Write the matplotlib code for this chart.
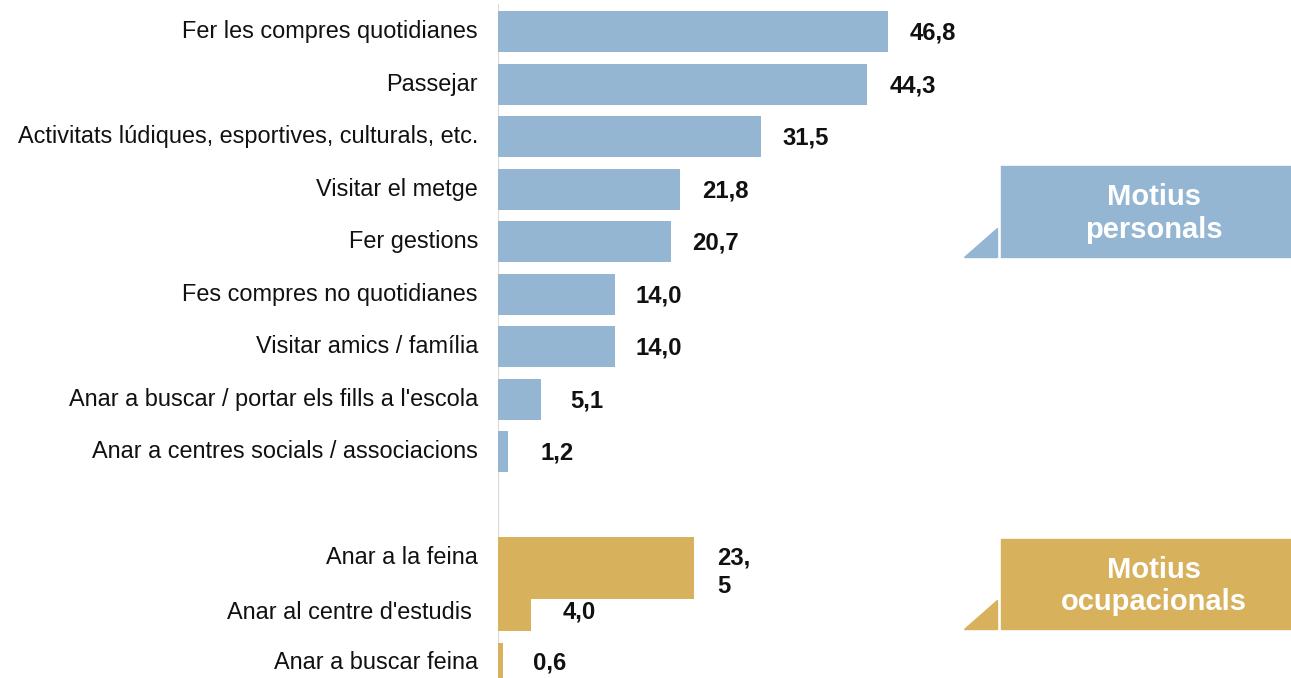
import matplotlib.pyplot as plt
from matplotlib.patches import Rectangle, Polygon

plt.rcParams['font.family'] = ['Liberation Sans', 'DejaVu Sans']

# dades
personal_labels = [
    "Fer les compres quotidianes",
    "Passejar",
    "Activitats lúdiques, esportives, culturals, etc.",
    "Visitar el metge",
    "Fer gestions",
    "Fes compres no quotidianes",
    "Visitar amics / família",
    "Anar a buscar / portar els fills a l'escola",
    "Anar a centres socials / associacions",
]
personal_values = [46.8, 44.3, 31.5, 21.8, 20.7, 14.0, 14.0, 5.1, 1.2]

occup_labels = [
    "Anar a la feina",
    "Anar al centre d'estudis ",
    "Anar a buscar feina",
]
occup_values = [23.5, 4.0, 0.6]
occup_value_text = ["23,\n5", "4,0", "0,6"]

blue = "#94B6D3"
gold = "#D7B15C"

W, H = 1291, 678
fig = plt.figure(figsize=(W / 100, H / 100), dpi=100)

# eix: 1 unitat = 8.33 px, 1 fila = 52.56 px
x0 = 498
px_per_unit = 390 / 46.8
row = 52.56
y_top = -31.5 / row
y_bot = (H - 31.5) / row
ax = fig.add_axes([x0 / W, 0, (W - x0) / W, 1])
ax.set_xlim(0, (W - x0) / px_per_unit)
ax.set_ylim(y_bot, y_top)
ax.axis("off")
ax.plot([0, 0], [y_top + 5 / row, y_bot], color="#D9D9D9", lw=1.5, zorder=0)

lab_fs = 16.9
val_fs = 17.2

def fmt(v):
    return f"{v:.1f}".replace(".", ",")

# motius personals
pers_pos = list(range(len(personal_values)))
ax.barh(pers_pos, personal_values, height=41 / row, color=blue, zorder=2)
pers_off = [22, 22, 22, 22, 22, 21, 21, 30, 33]
for p, v, lab, off in zip(pers_pos, personal_values, personal_labels, pers_off):
    ax.text(-20 / px_per_unit, p, lab, ha="right", va="center", fontsize=lab_fs, color="#111111")
    ax.text(v + off / px_per_unit, p + 1.5 / row, fmt(v), ha="left", va="center",
            fontsize=val_fs, fontweight="bold", color="#111111")

# motius ocupacionals (disposició original desquadrada)
occ_label_pos = [10, 11.05, 12]
occ_bar_pos = [10.21, 11.1, 12.02]
occ_bar_h = [62 / row, 32 / row, 41 / row]
ax.barh(occ_bar_pos, occup_values, height=occ_bar_h, color=gold, zorder=2)
occ_off = [23, 31, 30]
occ_text_y = [10.28, 11.04, 12.01]
for p, v, lab, off, t, ty in zip(occ_label_pos, occup_values, occup_labels,
                                 occ_off, occup_value_text, occ_text_y):
    ax.text(-20 / px_per_unit, p, lab, ha="right", va="center", fontsize=lab_fs, color="#111111")
    ax.text(v + off / px_per_unit, ty, t, ha="left", va="center",
            fontsize=val_fs, fontweight="bold", color="#111111", linespacing=1.3)

# caixes de llegenda (coordenades de figura en px)
def px(x, y):
    return x / W, 1 - y / H

def callout(top, bottom, color, text):
    x, y = px(1001, bottom)
    fig.patches.append(Rectangle((x, y), (W - 1001) / W, (bottom - top) / H,
                                 transform=fig.transFigure, color=color, zorder=1))
    tri = [px(964, bottom), px(997, bottom), px(997, bottom - 29)]
    fig.patches.append(Polygon(tri, closed=True, transform=fig.transFigure,
                               color=color, zorder=1))
    cx, cy = px(1154, (top + bottom) / 2 + 2)
    fig.text(cx, cy, text, ha="center", va="center", color="white",
             fontsize=21, fontweight="bold", linespacing=1.2)

callout(166, 257, blue, "Motius\npersonals")
callout(539, 629, gold, "Motius\nocupacionals")

fig.savefig("out.png", dpi=100)
